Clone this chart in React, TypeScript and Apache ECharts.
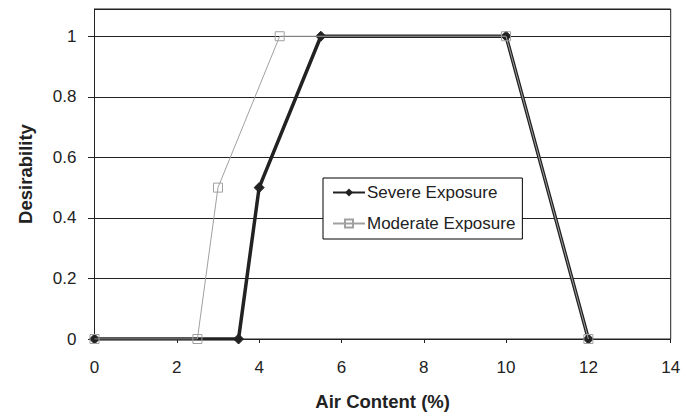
import React, { useEffect, useRef } from "react";
import * as echarts from "echarts";

const severeX = [0, 3.5, 4, 5.5, 10, 12];
const severeY = [0, 0, 0.5, 1, 1, 0];
const moderateX = [0, 2.5, 3, 4.5, 10, 12];
const moderateY = [0, 0, 0.5, 1, 1, 0];
const seriesNames = ["Severe Exposure", "Moderate Exposure"];
const xTitle = "Air Content (%)";
const yTitle = "Desirability";

export default function App() {
  const ref = useRef<HTMLDivElement>(null);
  useEffect(() => {
    if (!ref.current) return;
    const chart = echarts.init(ref.current, null, { renderer: "svg" });
    const font = "'Liberation Sans', Arial, sans-serif";
    chart.setOption({
      animation: false,
      textStyle: { fontFamily: font },
      grid: {
        left: 94.5,
        right: 13.3,
        top: 9,
        bottom: 76,
        show: true,
        borderColor: "#222",
        borderWidth: 1,
        backgroundColor: "#fff",
      },
      legend: {
        orient: "vertical",
        left: 323,
        top: 178,
        data: seriesNames,
        backgroundColor: "#fff",
        borderColor: "#000",
        borderWidth: 1,
        borderRadius: 0,
        padding: [6, 7, 7, 9],
        itemGap: 14,
        itemWidth: 32,
        itemHeight: 10,
        textStyle: { fontFamily: font, fontSize: 17, lineHeight: 17, color: "#222", padding: [0, 0, 0, -3] },
      },
      xAxis: {
        type: "value",
        min: 0,
        max: 14,
        interval: 2,
        name: xTitle,
        nameLocation: "middle",
        nameGap: 53,
        nameTextStyle: { fontFamily: font, fontSize: 18.5, fontWeight: "bold", color: "#222" },
        axisLine: { show: true, lineStyle: { color: "#222", width: 1 } },
        axisTick: { show: true, inside: false, length: 4, lineStyle: { color: "#222" } },
        axisLabel: { fontFamily: font, fontSize: 17, color: "#222", margin: 20 },
        splitLine: { show: false },
      },
      yAxis: {
        type: "value",
        min: 0,
        max: 1.09,
        interval: 0.2,
        name: yTitle,
        nameLocation: "middle",
        nameGap: 60,
        nameRotate: 90,
        nameTextStyle: { fontFamily: font, fontSize: 18.5, fontWeight: "bold", color: "#222" },
        axisLine: { show: true, lineStyle: { color: "#222", width: 1 } },
        axisTick: { show: true, inside: false, length: 6.5, lineStyle: { color: "#222" } },
        axisLabel: {
          fontFamily: font,
          fontSize: 17,
          color: "#222",
          margin: 18,
          showMaxLabel: false,
          formatter: (v: number) => {
            const r = Math.round(v * 10) / 10;
            if (Math.abs(v - r) > 1e-6) return "";
            return String(r);
          },
        },
        splitLine: { show: true, lineStyle: { color: "#222", width: 1 } },
      },
      series: [
        {
          name: seriesNames[0],
          type: "line",
          data: severeX.map((x, i) => [x, severeY[i]]),
          symbol: "diamond",
          symbolSize: 10,
          showAllSymbol: true,
          lineStyle: { color: "#222", width: 3.5 },
          itemStyle: { color: "#222", borderColor: "#222" },
          z: 2,
        },
        {
          name: seriesNames[1],
          type: "line",
          data: moderateX.map((x, i) => [x, moderateY[i]]),
          symbol: "rect",
          symbolSize: 9,
          showAllSymbol: true,
          lineStyle: { color: "#a0a0a0", width: 1 },
          itemStyle: { color: "rgba(255,255,255,0)", borderColor: "#a0a0a0", borderWidth: 1 },
          z: 3,
        },
      ],
    });
    return () => chart.dispose();
  }, []);
  return (
    <div
      ref={ref}
      style={{ position: "absolute", left: 0, top: 0, width: 684, height: 416 }}
    />
  );
}
